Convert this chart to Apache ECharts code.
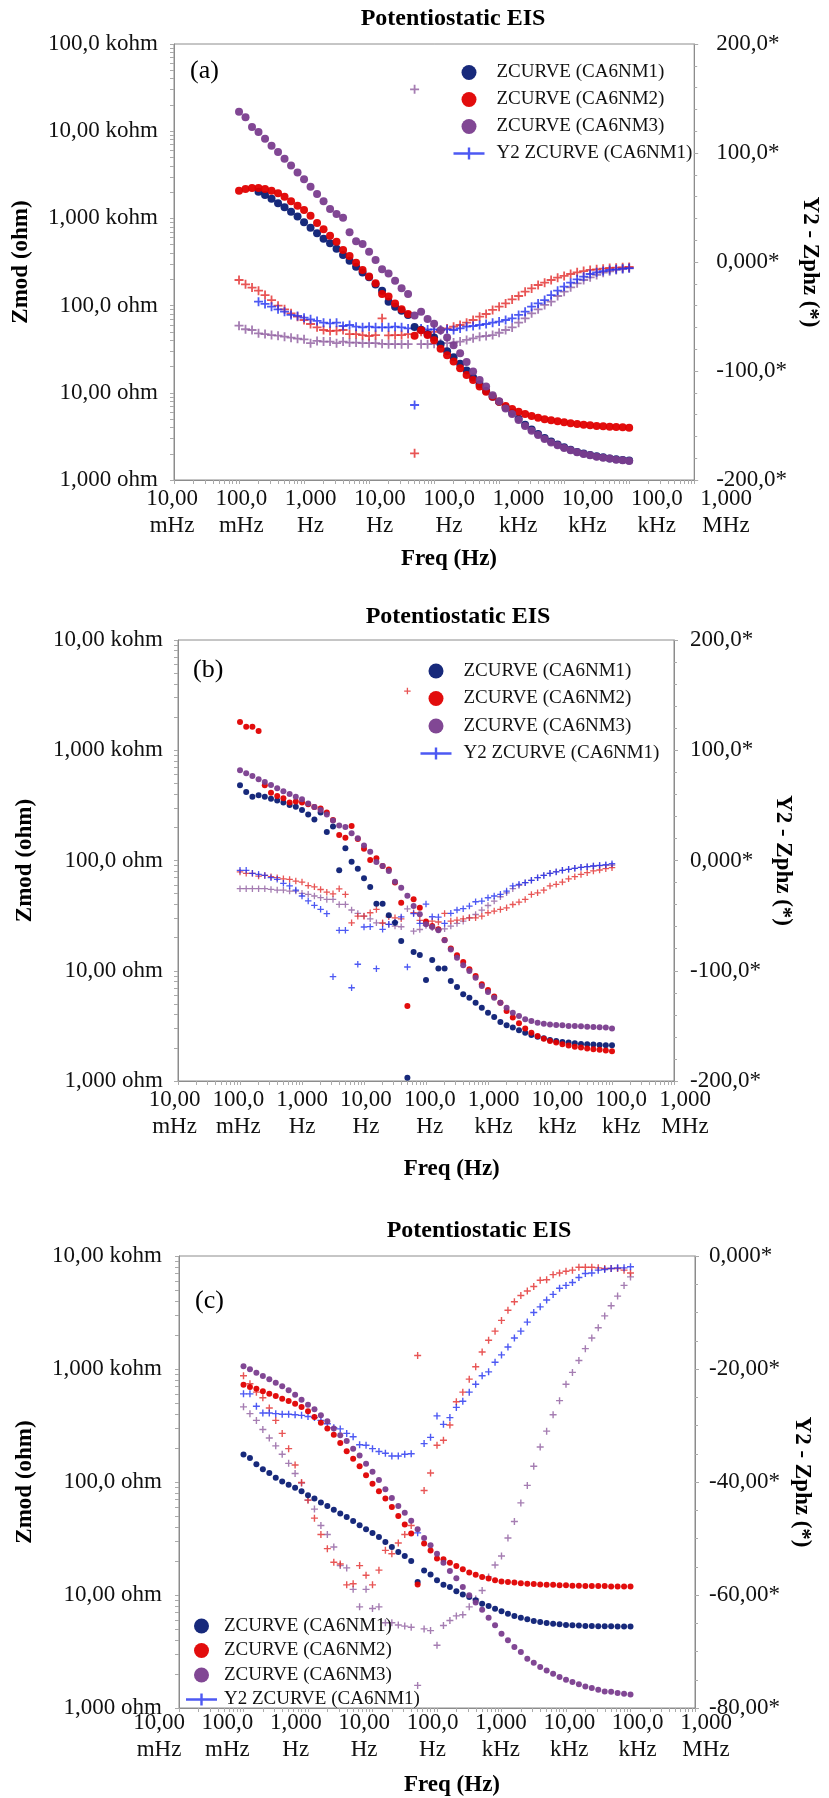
<!DOCTYPE html>
<html>
<head>
    <meta charset="utf-8">
    <title>Potentiostatic EIS</title>
    <script src="https://cdn.jsdelivr.net/npm/echarts@6.0.0/dist/echarts.min.js"></script>
</head>
<body style="margin:0; background:#fff;">
    <div id="main" style="width: 829px; height: 1798px;"></div>
    <script type="text/javascript">

        // sweep frequencies (Hz), 10 points per decade
        var freq = [
            0.1, 0.1259, 0.1585, 0.1995, 0.2512, 0.3162, 0.3981, 0.5012, 0.631, 0.7943,
            1, 1.259, 1.585, 1.995, 2.512, 3.162, 3.981, 5.012, 6.31, 7.943,
            10, 12.59, 15.85, 19.95, 25.12, 31.62, 39.81, 50.12, 63.1, 79.43,
            100, 125.9, 158.5, 199.5, 251.2, 316.2, 398.1, 501.2, 631, 794.3,
            1000, 1259, 1585, 1995, 2512, 3162, 3981, 5012, 6310, 7943,
            10000, 12590, 15850, 19950, 25120, 31620, 39810, 50120, 63100, 79430,
            100000
        ];

        // tick labels
        var freqLabels = ['10,00\nmHz', '100,0\nmHz', '1,000\nHz', '10,00\nHz', '100,0\nHz',
            '1,000\nkHz', '10,00\nkHz', '100,0\nkHz', '1,000\nMHz'];
        var zmodLabels = ['1,000 ohm', '10,00 ohm', '100,0 ohm', '1,000 kohm', '10,00 kohm', '100,0 kohm'];
        var phValsAB = [-200, -100, 0, 100, 200];
        var phLabsAB = ['-200,0*', '-100,0*', '0,000*', '100,0*', '200,0*'];
        var phValsC = [-80, -60, -40, -20, 0];
        var phLabsC = ['-80,00*', '-60,00*', '-40,00*', '-20,00*', '0,000*'];

        // ---- panel (a) ----
        var zA1 = [null, null, null, 2025, 1855, 1683, 1489, 1340, 1195, 1048,
            902, 783, 675, 586, 518, 450, 380, 327, 279, 239,
            211, 175, 148, 111, 97, 87.5, 78, 57, 53, 47,
            43, 36, 30, 25.5, 21.5, 18, 15, 12.5, 10.5, 9.0,
            7.9, 6.8, 5.9, 5.05, 4.3, 3.8, 3.38, 3.03, 2.76, 2.55,
            2.37, 2.22, 2.10, 2.01, 1.94, 1.87, 1.82, 1.77, 1.73, 1.70,
            1.67];
        var zA2 = [2080, 2175, 2230, 2230, 2175, 2080, 1940, 1775, 1570, 1400,
            1248, 1075, 885, 750, 634, 541, 434, 371, 311, 256,
            215, 180, 136, 127, 106, 91, 80, 45, 52, 46,
            40, 32, 27, 22.8, 19.1, 16.0, 14.0, 11.8, 10.3, 9.03,
            7.91, 7.06, 6.52, 6.08, 5.71, 5.42, 5.19, 4.97, 4.84, 4.71,
            4.59, 4.47, 4.39, 4.31, 4.24, 4.16, 4.13, 4.09, 4.06, 4.02,
            3.98];
        var zA3 = [16750, 14420, 11170, 9795, 8200, 6820, 5770, 4840, 4030, 3370,
            2805, 2310, 1905, 1570, 1282, 1122, 1019, 692, 546, 508,
            415, 333, 261, 234, 193, 158, 136, 77, 85, 70,
            62, 52, 43, 35, 28.5, 22.5, 17.5, 14.0, 11.8, 9.4,
            8.0, 6.6, 5.7, 4.88, 4.16, 3.68, 3.28, 2.95, 2.70, 2.50,
            2.33, 2.19, 2.08, 1.99, 1.92, 1.85, 1.80, 1.76, 1.71, 1.68,
            1.65];
        var pA1 = [null, null, null, -36.4, -38.5, -41.0, -43.4, -45.6, -48.6, -49.5,
            -51.1, -52.6, -54.1, -55.7, -56.3, -55.7, -58.7, -57.8, -59.3, -59.9,
            -59.3, -59.9, -59.9, -59.9, -59.3, -59.9, -60.9, -131.2, -61.0, -62.0,
            -61.8, -62.4, -61.8, -62.4, -60.9, -59.3, -58.7, -57.8, -56.9, -55.7,
            -54.7, -53.2, -51.7, -48.6, -45.6, -41.0, -38.0, -34.9, -30.3, -26.3,
            -22.6, -19.0, -15.9, -13.5, -11.0, -9.5, -8.3, -7.3, -6.7, -6.1,
            -5.6];
        var pA2 = [-16.5, -20.5, -23.5, -26.3, -30.3, -34.9, -40.1, -43.4, -47.1, -50.2,
            -53.2, -56.9, -59.9, -62.4, -63.3, -63.0, -62.4, -66.1, -66.1, -67.0,
            -67.9, -67.0, -51.7, -67.3, -67.0, -67.0, -66.1, -175.5, -64.0, -65.0,
            -64.0, -62.4, -60.9, -59.3, -57.8, -55.7, -53.2, -50.2, -47.7, -44.0,
            -41.0, -38.0, -34.3, -31.2, -27.2, -24.2, -21.1, -19.0, -16.5, -14.4,
            -12.8, -11.0, -9.5, -8.3, -7.3, -6.7, -6.1, -5.5, -5.2, -4.9,
            -4.6];
        var pA3 = [-58.4, -61.7, -62.4, -65.4, -66.1, -67.0, -67.6, -68.5, -69.4, -70.3,
            -70.9, -74.5, -72.4, -73.0, -73.0, -74.5, -73.0, -73.9, -73.9, -74.5,
            -74.5, -74.5, -75.1, -75.4, -75.4, -75.4, -75.4, 158.4, -75.4, -75.4,
            -75.1, -74.5, -74.5, -73.9, -73.0, -71.5, -70.0, -68.5, -67.9, -67.0,
            -64.9, -62.4, -60.0, -55.7, -51.7, -47.1, -43.4, -39.4, -36.4, -31.2,
            -27.2, -23.2, -19.6, -16.5, -14.1, -11.9, -9.8, -8.6, -7.3, -6.4,
            -5.8];

        // ---- panel (b) ----
        var zB1 = [481, 418, 379, 390, 379, 364, 351, 335, 319, 308,
            287, 262, 236, 272, 181, 203, 81.5, 129, 97.5, 84,
            68.9, 57.5, 40.6, 40.6, 31.8, 27.3, 18.6, 1.07, 14.8, 13.9,
            8.24, 12.5, 10.5, 10.5, 8.07, 7.12, 6.11, 5.70, 5.13, 4.62,
            4.17, 3.81, 3.43, 3.20, 3.05, 2.88, 2.74, 2.61, 2.52, 2.44,
            2.35, 2.31, 2.26, 2.23, 2.20, 2.17, 2.15, 2.14, 2.12, 2.11,
            2.11];
        var zB2 = [1805, 1636, 1636, 1496, 481, 412, 385, 367, 335, 342,
            335, 323, 305, 297, 272, 233, 170, 161, 206, 157,
            128, 101, 105, 89, 83, 63, 41.4, 4.79, 44.5, 37.3,
            28, 25.5, 23.8, 19.0, 15.9, 13.8, 12.0, 10.3, 8.97, 7.54,
            6.70, 5.83, 5.13, 4.32, 3.76, 3.34, 2.99, 2.74, 2.56, 2.42,
            2.31, 2.23, 2.15, 2.10, 2.05, 2.01, 1.97, 1.94, 1.92, 1.89,
            1.86];
        var zB3 = [658, 618, 584, 545, 515, 484, 452, 424, 401, 379,
            359, 328, 305, 287, 262, 231, 208, 201, 177, 159,
            137, 120, 96.9, 89, 80.4, 64.3, 56.7, 47.8, 38.6, 32.5,
            26.4, 25, 23.3, 18.9, 15.6, 13.1, 11.2, 9.95, 8.65, 7.27,
            6.42, 5.70, 5.13, 4.62, 4.17, 3.89, 3.63, 3.50, 3.38, 3.31,
            3.26, 3.22, 3.20, 3.15, 3.15, 3.13, 3.11, 3.09, 3.07, 3.05,
            2.99];
        var pB1 = [-8.9, -8.9, -11.6, -12.5, -13.5, -15.6, -17.1, -20.7, -23.1, -26.8,
            -32.2, -36.7, -40.7, -44.3, -48.2, -105.4, -63.3, -63.3, -115.4, -94.1,
            -60.3, -60.0, -98.1, -62.4, -57.9, -56.0, -51.2, -96.6, -48.2, -57.0,
            -39.5, -51.0, -51.3, -57.0, -47.9, -44.9, -43.7, -41.3, -37.4, -36.8,
            -33.8, -32.2, -30.7, -27.7, -23.1, -21.6, -20.1, -18.0, -15.6, -13.5,
            -11.6, -10.4, -8.9, -8.0, -7.1, -6.2, -5.6, -5.0, -4.4, -3.8,
            -2.9];
        var pB2 = [-10.4, -11.6, -11.6, -14.1, -13.5, -14.7, -15.6, -16.6, -17.2, -18.7,
            -19.6, -22.7, -23.9, -26.3, -28.7, -30.2, -25.7, -30.8, -56.5, -50.5,
            -50.5, -47.4, -44.4, -56.5, -51.1, -52.0, -52.9, 153.7, -47.4, -54.3,
            -57.0, -54.9, -55.8, -48.0, -54.9, -54.0, -52.9, -52.0, -52.0, -50.5,
            -47.4, -45.9, -44.4, -42.9, -39.9, -37.7, -35.3, -30.8, -29.3, -26.9,
            -23.1, -21.6, -19.6, -16.6, -14.7, -12.6, -11.0, -9.5, -8.6, -7.4,
            -6.5];
        var pB3 = [-25.6, -25.6, -25.6, -25.6, -25.6, -26.2, -26.8, -26.8, -27.7, -27.7,
            -29.8, -30.7, -32.2, -33.7, -35.3, -35.3, -39.8, -39.8, -44.9, -48.0,
            -50.4, -52.9, -56.5, -57.1, -58.0, -59.5, -60.1, -43.8, -64.1, -62.6,
            -58.9, -61.0, -62.6, -62.0, -59.5, -57.1, -55.0, -52.0, -49.0, -45.0,
            -40.8, -36.8, -32.9, -29.3, -25.6, -22.6, -20.1, -18.0, -15.6, -13.5,
            -11.6, -10.1, -8.9, -8.0, -7.1, -6.2, -5.6, -5.0, -4.7, -4.4,
            -4.1];

        // ---- panel (c) ----
        var zC1 = [175, 163, 143.5, 129.5, 120, 109, 101, 94.7, 89.1, 82.7,
            76.3, 71.3, 65.7, 61.4, 56.9, 52.5, 49.0, 45.2, 41.4, 38.1,
            35.4, 32.6, 29.4, 26.6, 24.0, 22.1, 20.0, 13.0, 16.5, 15.2,
            13.5, 12.3, 11.8, 10.8, 10.1, 9.60, 8.97, 8.38, 7.99, 7.57,
            7.17, 6.84, 6.52, 6.30, 6.09, 5.89, 5.77, 5.65, 5.57, 5.50,
            5.43, 5.39, 5.36, 5.32, 5.32, 5.28, 5.28, 5.28, 5.25, 5.25,
            5.25];
        var zC2 = [727, 693, 670, 634, 605, 577, 546, 521, 493, 461,
            422, 376, 335, 297, 262, 221, 187, 161, 138, 115,
            96.7, 82.7, 71.3, 60.1, 50, 42, 35, 12.4, 28.5, 24.8,
            21.0, 20.7, 19.3, 18.1, 16.9, 15.8, 15.1, 14.4, 14.0, 13.5,
            13.2, 13.0, 12.9, 12.7, 12.6, 12.5, 12.4, 12.3, 12.3, 12.2,
            12.2, 12.1, 12.1, 12.0, 12.0, 12.0, 12.0, 11.9, 11.9, 11.9,
            11.9];
        var zC3 = [1056, 993, 928, 867, 810, 757, 703, 648, 593, 535,
            483, 440, 389, 344, 297, 259, 231, 197, 172, 145,
            123, 104, 86.1, 72.1, 61.4, 53.5, 45.5, 38.1, 31.9, 27.5,
            23.2, 19.3, 16.3, 14.1, 11.8, 9.94, 8.6, 7.4, 6.3, 5.4,
            4.55, 3.97, 3.47, 3.13, 2.73, 2.52, 2.31, 2.15, 2.01, 1.88,
            1.78, 1.70, 1.62, 1.55, 1.50, 1.45, 1.40, 1.39, 1.36, 1.34,
            1.32];
        var pC1 = [-24.4, -24.4, -26.6, -27.8, -27.8, -27.9, -28.0, -28.0, -28.1, -28.2,
            -28.4, -28.6, -29.1, -29.7, -30.4, -30.6, -31.4, -32.0, -33.4, -33.5,
            -34.1, -34.6, -34.9, -35.4, -35.4, -35.1, -35.0, -49.0, -33.2, -32.1,
            -28.3, -29.8, -28.6, -26.8, -25.7, -24.1, -22.7, -21.2, -20.5, -18.8,
            -17.5, -16.1, -14.5, -13.3, -11.7, -10.0, -9.0, -7.8, -6.8, -5.7,
            -5.2, -4.7, -3.8, -3.1, -3.0, -2.5, -2.4, -2.2, -2.1, -2.1,
            -1.9];
        var pC2 = [-21.2, -22.6, -24.1, -25.1, -26.9, -29.1, -31.4, -34.1, -37.0, -40.1,
            -43.2, -46.4, -49.3, -51.8, -54.2, -54.5, -58.2, -58.0, -54.8, -56.5,
            -58.2, -55.6, -52.1, -52.7, -50.8, -49.3, -47.7, -17.6, -41.5, -38.4,
            -33.5, -32.6, -29.9, -25.8, -24.1, -21.8, -19.6, -17.0, -14.9, -13.3,
            -11.4, -9.6, -8.1, -7.0, -6.2, -5.4, -4.3, -4.2, -3.3, -3.0,
            -2.7, -2.5, -2.0, -2.0, -2.0, -2.1, -2.2, -2.2, -2.2, -2.5,
            -3.0];
        var pC3 = [-26.7, -27.9, -29.1, -30.7, -32.2, -33.6, -35.1, -36.7, -38.5, -40.2,
            -43.2, -44.8, -47.7, -49.3, -51.5, -54.8, -55.2, -59.0, -62.1, -59.0,
            -62.4, -62.1, -64.9, -64.9, -65.3, -65.5, -65.7, -76.0, -66.0, -66.3,
            -68.9, -65.4, -64.5, -63.7, -63.5, -62.1, -60.7, -59.2, -56.8, -54.7,
            -53.1, -49.9, -47.0, -43.7, -40.6, -37.2, -33.8, -31.0, -28.1, -25.6,
            -22.7, -20.6, -18.5, -16.4, -14.5, -12.7, -10.6, -8.8, -7.1, -5.2,
            -3.7];

        var FONT = '"Liberation Serif", "Times New Roman", serif';
        var CROSS = 'path://M4,0L6,0L6,4L10,4L10,6L6,6L6,10L4,10L4,6L0,6L0,4L4,4Z';
        // legend icon: long line with a short vertical bar, padded out to the item box
        var ICON_WIDE = 'path://M0,0L0.01,0L0,0.01Z M45,15L44.99,15L45,14.99Z M7,6.2L38,6.2L38,8.8L7,8.8Z M21.3,1.5L23.7,1.5L23.7,13.5L21.3,13.5Z';
        var ICON_NARROW = 'path://M0,0L0.01,0L0,0.01Z M35,15L34.99,15L35,14.99Z M2,6.2L33,6.2L33,8.8L2,8.8Z M16.3,1.5L18.7,1.5L18.7,13.5L16.3,13.5Z';

        var dotNames = ['ZCURVE (CA6NM1)', 'ZCURVE (CA6NM2)', 'ZCURVE (CA6NM3)'];
        var crossNames = ['Y2 ZCURVE (CA6NM1)', 'Y2 ZCURVE (CA6NM2)', 'Y2 ZCURVE (CA6NM3)'];
        var dotColors = ['#0b1d74', '#e00000', '#7a3d8e'];
        var crossColors = ['#2030f0', '#e22a2a', '#8f5c9f'];
        var frameColor = '#8c8c8c';

        var panels = [
            {
                tag: '(a)', z: [zA1, zA2, zA3], p: [pA1, pA2, pA3],
                grid: {left: 174, top: 44, width: 538, height: 436},
                labelGrid: {left: 172, width: 554},
                zMax: 1e5, ph: {min: -200, max: 200, interval: 100, minor: 5, vals: phValsAB, labs: phLabsAB},
                title: [453, 19], tagPos: [190, 71.5],
                legend: {left: 441.5, top: 58, itemWidth: 45, itemGap: 8}, legIcon: ICON_WIDE,
                zGap: 141, pGap: 96, zMargin: 16, pMargin: 22, fGap: 68, fShift: 0, dot: 8, cross: 9
            },
            {
                tag: '(b)', z: [zB1, zB2, zB3], p: [pB1, pB2, pB3],
                grid: {left: 178, top: 640, width: 496, height: 441},
                labelGrid: {left: 174.5, width: 510.5},
                zMax: 1e4, ph: {min: -200, max: 200, interval: 100, minor: 5, vals: phValsAB, labs: phLabsAB},
                title: [458, 617], tagPos: [193, 670.5],
                legend: {left: 408.5, top: 656.5, itemWidth: 45, itemGap: 8.5}, legIcon: ICON_WIDE,
                zGap: 141, pGap: 95, zMargin: 15, pMargin: 16, fGap: 77, fShift: 44, dot: 6, cross: 6.5
            },
            {
                tag: '(c)', z: [zC1, zC2, zC3], p: [pC1, pC2, pC3],
                grid: {left: 179, top: 1256, width: 516, height: 452},
                labelGrid: {left: 159, width: 547},
                zMax: 1e4, ph: {min: -80, max: 0, interval: 20, minor: 4, vals: phValsC, labs: phLabsC},
                title: [479, 1231], tagPos: [195, 1301.5],
                legend: {left: 179, top: 1611.5, itemWidth: 35, itemGap: 5.5}, legIcon: ICON_NARROW,
                zGap: 142, pGap: 95, zMargin: 17, pMargin: 14, fGap: 70, fShift: 39, dot: 6, cross: 7
            }
        ];

        // 1..9 x 10^d tick marks for the log axes
        function logTicks(lo, hi) {
            var out = [];
            for (var d = lo; d < hi; d++) {
                for (var k = 1; k < 10; k++) out.push(+(k * Math.pow(10, d)).toPrecision(6));
            }
            out.push(Math.pow(10, hi));
            return out;
        }

        function pairs(ys) {
            var out = [];
            freq.forEach(function (f, i) {
                if (ys[i] != null) out.push([f, ys[i]]);
            });
            return out;
        }

        var nameStyle = {fontFamily: FONT, fontWeight: 'bold', fontSize: 23, color: '#000'};
        var grids = [], xAxes = [], yAxes = [], series = [], legends = [], graphics = [];

        panels.forEach(function (P, k) {
            grids.push(Object.assign({show: true, borderColor: frameColor, borderWidth: 1}, P.grid));

            xAxes.push({
                type: 'log', logBase: 10, gridIndex: k, min: 0.01, max: 1e6,
                axisLine: {onZero: false, lineStyle: {color: frameColor}},
                axisTick: {customValues: logTicks(-2, 6), length: 4, lineStyle: {color: '#aaa'}},
                axisLabel: {show: false},
                splitLine: {show: false}
            });

            yAxes.push({
                type: 'log', logBase: 10, gridIndex: k, position: 'left', min: 1, max: P.zMax,
                name: 'Zmod (ohm)', nameLocation: 'middle', nameGap: P.zGap, nameTextStyle: nameStyle,
                axisLine: {show: true, onZero: false, lineStyle: {color: frameColor}},
                axisTick: {customValues: logTicks(0, Math.round(Math.log10(P.zMax))), length: 4, lineStyle: {color: '#aaa'}},
                axisLabel: {
                    margin: P.zMargin, fontFamily: FONT, fontSize: 23, color: '#111',
                    formatter: function (v) { return zmodLabels[Math.round(Math.log10(v))]; }
                },
                splitLine: {show: false}
            });

            yAxes.push({
                type: 'value', gridIndex: k, position: 'right',
                min: P.ph.min, max: P.ph.max, interval: P.ph.interval,
                name: 'Y2 - Zphz (*)', nameLocation: 'middle', nameGap: P.pGap, nameRotate: -90,
                nameTextStyle: nameStyle,
                axisLine: {show: true, onZero: false, lineStyle: {color: frameColor}},
                axisTick: {show: true, length: 4, lineStyle: {color: '#aaa'}},
                minorTick: {show: true, splitNumber: P.ph.minor, length: 3, lineStyle: {color: '#aaa'}},
                axisLabel: {
                    margin: P.pMargin, fontFamily: FONT, fontSize: 23, color: '#111',
                    formatter: function (v) {
                        var i = P.ph.vals.indexOf(v);
                        return i < 0 ? '' : P.ph.labs[i];
                    }
                },
                splitLine: {show: false}
            });

            // phase crosses first, impedance dots on top
            for (var s = 2; s >= 0; s--) {
                series.push({
                    name: crossNames[s], type: 'scatter', xAxisIndex: k, yAxisIndex: 2 * k + 1,
                    symbol: CROSS, symbolSize: P.cross,
                    itemStyle: {color: crossColors[s]},
                    data: pairs(P.p[s])
                });
            }
            for (var s2 = 0; s2 < 3; s2++) {
                series.push({
                    name: dotNames[s2], type: 'scatter', xAxisIndex: k, yAxisIndex: 2 * k,
                    symbol: 'circle', symbolSize: P.dot,
                    itemStyle: {color: dotColors[s2], opacity: 0.95},
                    data: pairs(P.z[s2])
                });
            }

            legends.push({
                orient: 'vertical', left: P.legend.left, top: P.legend.top,
                itemWidth: P.legend.itemWidth, itemHeight: 15, itemGap: P.legend.itemGap,
                selectedMode: false,
                textStyle: {fontFamily: FONT, fontSize: 19, lineHeight: 19, color: '#111'},
                data: [
                    {name: dotNames[0]}, {name: dotNames[1]}, {name: dotNames[2]},
                    {name: crossNames[0], icon: P.legIcon}
                ]
            });

            graphics.push({
                type: 'text', x: P.title[0], y: P.title[1],
                style: {
                    text: 'Potentiostatic EIS', font: 'bold 24px ' + FONT, fill: '#000',
                    align: 'center', verticalAlign: 'middle', textAlign: 'center', textVerticalAlign: 'middle'
                }
            });
            graphics.push({
                type: 'text', x: P.tagPos[0], y: P.tagPos[1],
                style: {
                    text: P.tag, font: '26px ' + FONT, fill: '#000',
                    align: 'left', verticalAlign: 'middle', textAlign: 'left', textVerticalAlign: 'middle'
                }
            });
        });

        // separate label-only frequency axes (labels in the source sit a bit wider than the frame)
        panels.forEach(function (P, k) {
            grids.push({show: false, left: P.labelGrid.left, width: P.labelGrid.width, top: P.grid.top, height: P.grid.height});
            xAxes.push({
                type: 'log', logBase: 10, gridIndex: 3 + k, min: 0.01, max: 1e6, splitNumber: 8,
                name: 'Freq (Hz)', nameLocation: 'middle', nameGap: P.fGap,
                nameTextStyle: Object.assign({padding: [0, 0, 0, P.fShift]}, nameStyle),
                axisLine: {show: false, onZero: false}, axisTick: {show: false}, splitLine: {show: false},
                axisLabel: {
                    margin: 5, fontFamily: FONT, fontSize: 23, lineHeight: 27, color: '#111',
                    showMinLabel: true, showMaxLabel: true,
                    formatter: function (v) { return freqLabels[Math.round(Math.log10(v)) + 2]; }
                }
            });
            yAxes.push({type: 'value', gridIndex: 3 + k, show: false, min: 0, max: 1});
        });

        var myChart = echarts.init(document.getElementById('main'), null, {renderer: 'canvas'});

        var option = {
            backgroundColor: '#fff',
            animation: false,
            grid: grids,
            xAxis: xAxes,
            yAxis: yAxes,
            legend: legends,
            graphic: graphics,
            series: series
        };

        myChart.setOption(option);

    </script>
</body>
</html>
